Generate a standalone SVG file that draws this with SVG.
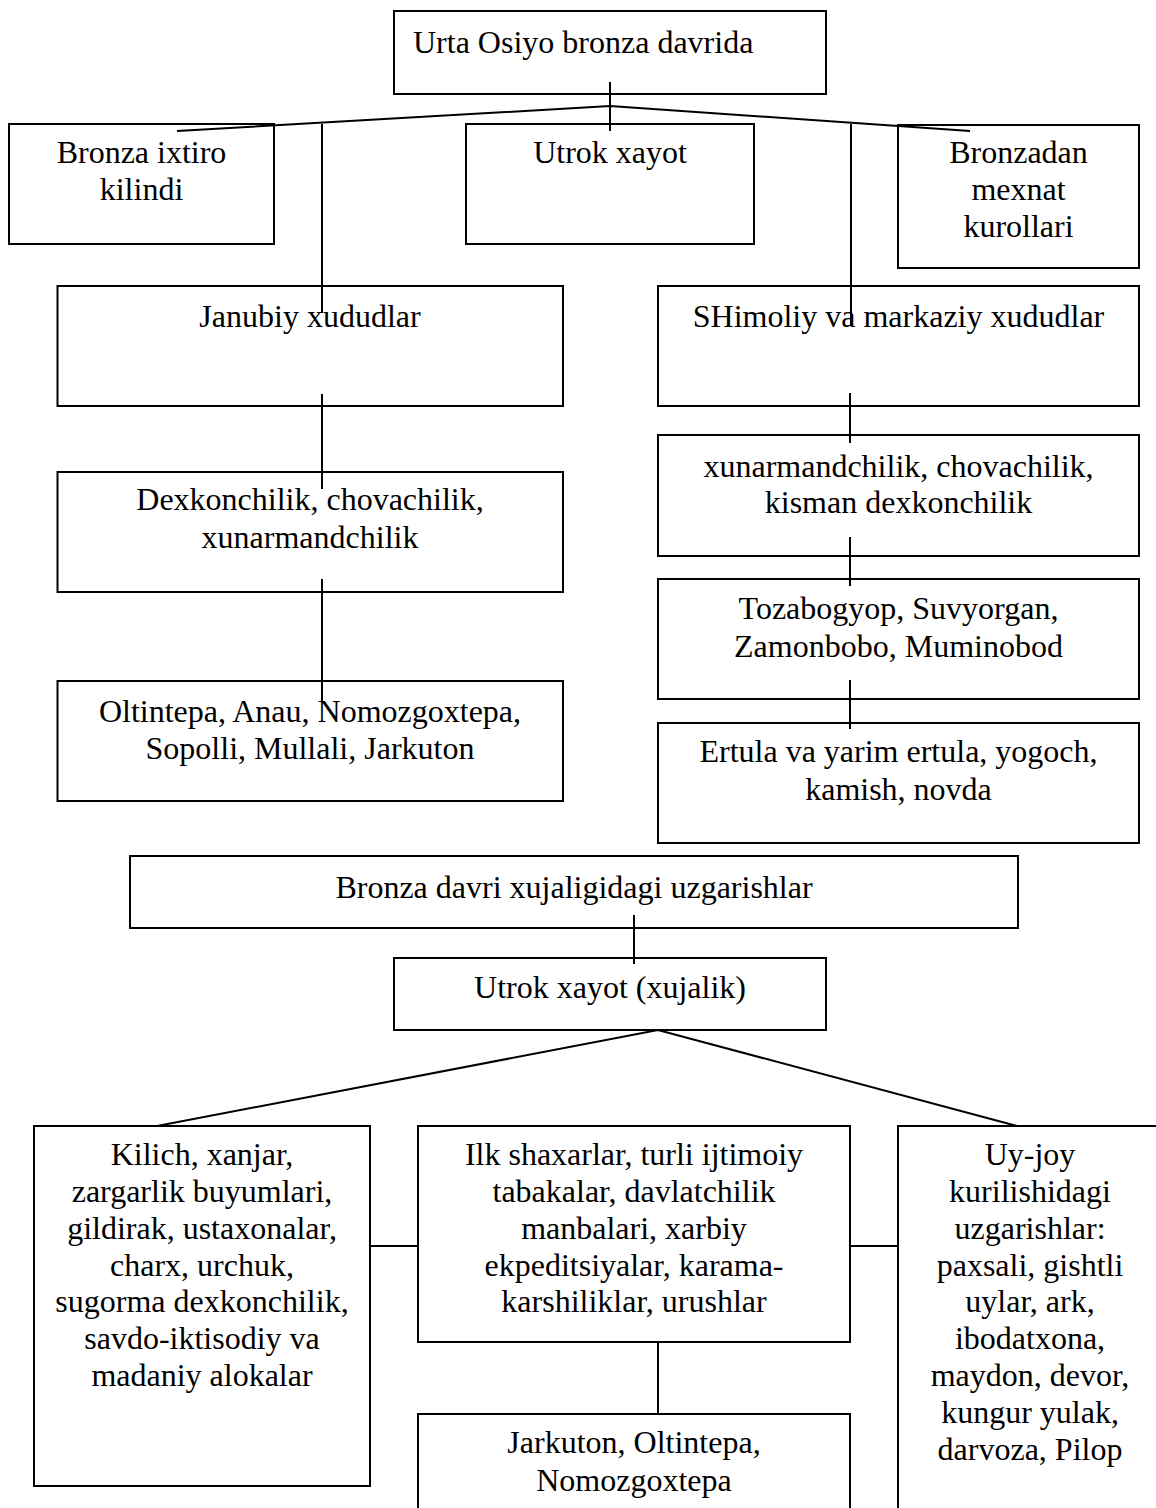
<svg xmlns="http://www.w3.org/2000/svg" width="1156" height="1508" viewBox="0 0 1156 1508">
<style>
.box{fill:#fff;stroke:#000;stroke-width:2}
.ln{stroke:#000;stroke-width:2;fill:none}
text{font-family:"Liberation Serif","Times New Roman",serif;font-size:32px;fill:#000;text-anchor:middle}
</style>
<rect width="1156" height="1508" fill="#fff"/>
<g id="n-top"><rect class="box" x="394" y="11" width="432" height="83"/><text x="413" y="53" style="text-anchor:start">Urta Osiyo bronza davrida</text></g>
<g id="n-ixtiro"><rect class="box" x="9" y="124" width="265" height="120"/><text x="141.5" y="163">Bronza ixtiro</text><text x="141.5" y="200">kilindi</text></g>
<g id="n-utrok"><rect class="box" x="466" y="124" width="288" height="120"/><text x="610" y="163">Utrok xayot</text></g>
<g id="n-bronzadan"><rect class="box" x="898" y="125" width="241" height="143"/><text x="1018.5" y="163">Bronzadan</text><text x="1018.5" y="200">mexnat</text><text x="1018.5" y="237">kurollari</text></g>
<g id="n-janubiy"><rect class="box" x="57.5" y="286" width="505.5" height="120"/><text x="310" y="327">Janubiy xududlar</text></g>
<g id="n-shimoliy"><rect class="box" x="658" y="286" width="481" height="120"/><text x="898.5" y="327">SHimoliy va markaziy xududlar</text></g>
<g id="n-dex"><rect class="box" x="57.5" y="472" width="505.5" height="120"/><text x="310" y="510">Dexkonchilik, chovachilik,</text><text x="310" y="548">xunarmandchilik</text></g>
<g id="n-xun"><rect class="box" x="658" y="435" width="481" height="121"/><text x="898.5" y="477">xunarmandchilik, chovachilik,</text><text x="898.5" y="513">kisman dexkonchilik</text></g>
<g id="n-toza"><rect class="box" x="658" y="579" width="481" height="120"/><text x="898.5" y="619">Tozabogyop, Suvyorgan,</text><text x="898.5" y="657">Zamonbobo, Muminobod</text></g>
<g id="n-olt"><rect class="box" x="57.5" y="681" width="505.5" height="120"/><text x="310" y="722">Oltintepa, Anau, Nomozgoxtepa,</text><text x="310" y="759">Sopolli, Mullali, Jarkuton</text></g>
<g id="n-ertula"><rect class="box" x="658" y="723" width="481" height="120"/><text x="898.5" y="762">Ertula va yarim ertula, yogoch,</text><text x="898.5" y="800">kamish, novda</text></g>
<g id="n-davri"><rect class="box" x="130" y="856" width="888" height="72"/><text x="574" y="898">Bronza davri xujaligidagi uzgarishlar</text></g>
<g id="n-xujalik"><rect class="box" x="394" y="958" width="432" height="72"/><text x="610" y="998">Utrok xayot (xujalik)</text></g>
<g id="n-kilich"><rect class="box" x="34" y="1126" width="336" height="360"/>
<text x="202" y="1165">Kilich, xanjar,</text><text x="202" y="1202">zargarlik buyumlari,</text><text x="202" y="1239">gildirak, ustaxonalar,</text><text x="202" y="1276">charx, urchuk,</text><text x="202" y="1312">sugorma dexkonchilik,</text><text x="202" y="1349">savdo-iktisodiy va</text><text x="202" y="1386">madaniy alokalar</text></g>
<g id="n-ilk"><rect class="box" x="418" y="1126" width="432" height="216"/>
<text x="634" y="1165">Ilk shaxarlar, turli ijtimoiy</text><text x="634" y="1202">tabakalar, davlatchilik</text><text x="634" y="1239">manbalari, xarbiy</text><text x="634" y="1276">ekpeditsiyalar, karama-</text><text x="634" y="1312">karshiliklar, urushlar</text></g>
<g id="n-uyjoy"><rect class="box" x="898" y="1126" width="270" height="400"/>
<text x="1030" y="1165">Uy-joy</text><text x="1030" y="1202">kurilishidagi</text><text x="1030" y="1239">uzgarishlar:</text><text x="1030" y="1276">paxsali, gishtli</text><text x="1030" y="1312">uylar, ark,</text><text x="1030" y="1349">ibodatxona,</text><text x="1030" y="1386">maydon, devor,</text><text x="1030" y="1423">kungur yulak,</text><text x="1030" y="1460">darvoza, Pilop</text></g>
<g id="n-jarkuton"><rect class="box" x="418" y="1414" width="432" height="120"/><text x="634" y="1453">Jarkuton, Oltintepa,</text><text x="634" y="1491">Nomozgoxtepa</text></g>
<g id="connectors">
<line class="ln" x1="610" y1="82" x2="610" y2="131"/>
<polyline class="ln" points="177,131 610,106 970,131"/>
<line class="ln" x1="322" y1="124" x2="322" y2="313"/>
<line class="ln" x1="851" y1="124" x2="851" y2="326"/>
<line class="ln" x1="322" y1="394" x2="322" y2="489"/>
<line class="ln" x1="322" y1="579" x2="322" y2="702"/>
<line class="ln" x1="850" y1="393" x2="850" y2="443"/>
<line class="ln" x1="850" y1="537" x2="850" y2="586"/>
<line class="ln" x1="850" y1="680" x2="850" y2="729"/>
<line class="ln" x1="634" y1="915" x2="634" y2="964"/>
<polyline class="ln" points="157,1126 658,1030 1017,1126"/>
<line class="ln" x1="370" y1="1246" x2="418" y2="1246"/>
<line class="ln" x1="850" y1="1246" x2="898" y2="1246"/>
<line class="ln" x1="658" y1="1342" x2="658" y2="1414"/>
</g>
</svg>
